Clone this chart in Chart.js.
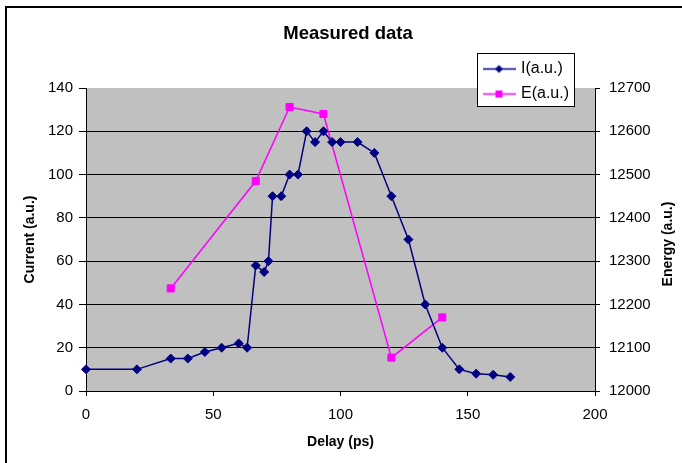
<!DOCTYPE html>
<html>
<head>
<meta charset="utf-8">
<script src="https://cdn.jsdelivr.net/npm/chart.js@4/dist/chart.umd.min.js"></script>
<style>
  html, body { margin: 0; padding: 0; background: #fff; }
  #wrap { width: 682px; height: 463px; }
</style>
</head>
<body>
<div id="wrap"><canvas id="measuredChart" width="682" height="463"></canvas></div>
<script>
// Delay (ps) of each current sample
const delay = [0, 20, 33.3, 40, 46.7, 53.3, 60, 63.3, 66.7, 70, 71.7, 73.3, 76.7, 80, 83.3,
               86.7, 90, 93.3, 96.7, 100, 106.7, 113.3, 120, 126.7, 133.3, 140, 146.7, 153.3, 160, 166.7];
const current = [10, 10, 15, 15, 18, 20, 22, 20, 58, 55, 60, 90, 90, 100, 100,
                 120, 115, 120, 115, 115, 115, 110, 90, 70, 40, 20, 10, 8, 7.5, 6.5];

// Energy samples have their own delays
const energyDelay = [33.3, 66.7, 80, 93.3, 120, 140];
const energy = [12237, 12485, 12656, 12640, 12077, 12170];

const FONT = "'Liberation Sans', Arial, sans-serif";
Chart.defaults.font.family = FONT;
Chart.defaults.color = "#000";

// little legend swatch: line with the marker in the middle
function legendSwatch(color, shape) {
    const c = document.createElement("canvas");
    c.width = 33;
    c.height = 11;
    const g = c.getContext("2d");
    g.strokeStyle = color;
    g.fillStyle = color;
    g.lineWidth = 1.5;
    g.beginPath();
    g.moveTo(0, 5.5);
    g.lineTo(33, 5.5);
    g.stroke();
    g.beginPath();
    if (shape === "diamond") {
        g.moveTo(16.5, 1.5); g.lineTo(20.5, 5.5); g.lineTo(16.5, 9.5); g.lineTo(12.5, 5.5);
    } else {
        g.rect(13, 2, 7, 7);
    }
    g.closePath();
    g.fill();
    return c;
}
const swatches = [legendSwatch("#000080", "diamond"), legendSwatch("#ff00ff", "square")];

const chartDecor = {
    id: "chartDecor",
    afterLayout(chart) {
        // move the legend up to the top right, over the plot edge
        const lg = chart.legend;
        if (lg) {
            lg.left = 476;
            lg.top = 52;
        }
    },
    beforeDraw(chart) {
        const ctx = chart.ctx;
        const a = chart.chartArea;
        ctx.save();
        ctx.fillStyle = "#fff";
        ctx.fillRect(0, 0, chart.width, chart.height);
        ctx.fillStyle = "#c0c0c0";
        ctx.fillRect(a.left, a.top, a.right - a.left, a.bottom - a.top);
        // outer frame
        ctx.strokeStyle = "#000";
        ctx.lineWidth = 2;
        ctx.beginPath();
        ctx.moveTo(6, chart.height);
        ctx.lineTo(6, 7);
        ctx.lineTo(chart.width, 7);
        ctx.stroke();
        // legend box
        ctx.fillStyle = "#fff";
        ctx.fillRect(477, 53, 97, 53);
        ctx.lineWidth = 1;
        ctx.strokeRect(477.5, 53.5, 97, 53);
        ctx.restore();
    },
    afterDraw(chart) {
        // right axis title reads bottom-to-top like the left one
        const t = chart.options.scales.y2.title;
        const ctx = chart.ctx;
        ctx.save();
        ctx.translate(668, 244);
        ctx.rotate(-Math.PI / 2);
        ctx.font = "bold 14px " + FONT;
        ctx.fillStyle = "#000";
        ctx.textAlign = "center";
        ctx.textBaseline = "middle";
        ctx.fillText(t.text, 0, 0);
        ctx.restore();
    }
};

const plainNumber = v => String(v);

const ctx = document.getElementById("measuredChart").getContext("2d");
new Chart(ctx, {
    type: "line",
    data: {
        datasets: [{
            label: "I(a.u.)",
            data: delay.map((d, i) => ({ x: d, y: current[i] })),
            yAxisID: "y",
            borderColor: "#000080",
            backgroundColor: "#000080",
            borderWidth: 1.5,
            pointStyle: "rectRot",
            pointRadius: 4.5,
            pointBorderWidth: 1,
            tension: 0,
            clip: false
        }, {
            label: "E(a.u.)",
            data: energyDelay.map((d, i) => ({ x: d, y: energy[i] })),
            yAxisID: "y2",
            borderColor: "#ff00ff",
            backgroundColor: "#ff00ff",
            borderWidth: 1.5,
            pointStyle: "rect",
            pointRadius: 5,
            pointBorderWidth: 1,
            tension: 0,
            clip: false
        }]
    },
    options: {
        responsive: false,
        animation: false,
        layout: { padding: { left: 14, right: 0, top: 0, bottom: 0 } },
        plugins: {
            title: {
                display: true,
                text: "Measured data",
                color: "#000",
                font: { size: 18.5, weight: "bold" },
                padding: { top: 22.4, bottom: 43.4 }
            },
            legend: {
                display: true,
                position: "chartArea",
                align: "start",
                labels: {
                    usePointStyle: true,
                    pointStyleWidth: 28,
                    padding: 9,
                    color: "#000",
                    font: { size: 16 },
                    generateLabels(chart) {
                        const items = Chart.defaults.plugins.legend.labels.generateLabels(chart);
                        items.forEach((it, i) => { it.pointStyle = swatches[i]; });
                        return items;
                    }
                }
            },
            tooltip: { enabled: false }
        },
        scales: {
            x: {
                type: "linear",
                min: 0,
                max: 200,
                ticks: { stepSize: 50, padding: 10, font: { size: 15 }, callback: plainNumber },
                grid: { drawOnChartArea: false, tickLength: 5, tickColor: "#000" },
                border: { color: "#000", width: 1 },
                title: {
                    display: true,
                    text: "Delay (ps)",
                    font: { size: 14, weight: "bold" },
                    padding: { top: 0, bottom: 12.6 }
                },
                afterFit(scale) { scale.height = 72; }
            },
            y: {
                position: "left",
                min: 0,
                max: 140,
                ticks: { stepSize: 20, padding: 6, font: { size: 15 }, callback: plainNumber },
                grid: {
                    color: c => (c.tick && c.tick.value === 140) ? "rgba(0,0,0,0)" : "#000",
                    lineWidth: 1,
                    tickLength: 7,
                    tickColor: "#000"
                },
                border: { color: "#000", width: 1 },
                title: {
                    display: true,
                    text: "Current (a.u.)",
                    font: { size: 14, weight: "bold" },
                    padding: { top: 7.6, bottom: 0 }
                },
                afterFit(scale) { scale.width = 72; }
            },
            y2: {
                position: "right",
                min: 12000,
                max: 12700,
                ticks: { stepSize: 100, padding: 9, font: { size: 15 }, callback: plainNumber },
                grid: { drawOnChartArea: false, tickLength: 5, tickColor: "#000" },
                border: { color: "#000", width: 1 },
                title: { display: false, text: "Energy (a.u.)" },
                afterFit(scale) { scale.width = 87; }
            }
        }
    },
    plugins: [chartDecor]
});
</script>
</body>
</html>
